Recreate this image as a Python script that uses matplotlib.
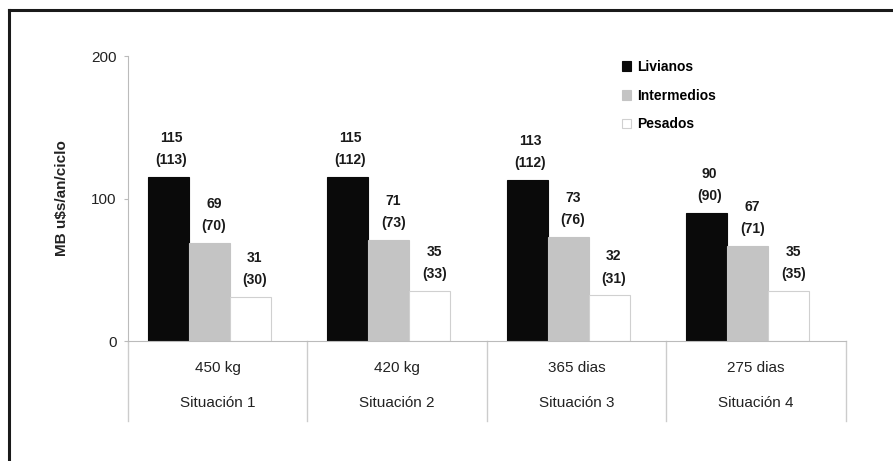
import matplotlib.pyplot as plt
import numpy as np
from matplotlib.lines import Line2D

# datos
situaciones = ['Situación 1', 'Situación 2', 'Situación 3', 'Situación 4']
condiciones = ['450 kg', '420 kg', '365 dias', '275 dias']
series = ['Livianos', 'Intermedios', 'Pesados']
livianos = [115, 115, 113, 90]
intermedios = [69, 71, 73, 67]
pesados = [31, 35, 32, 35]
livianos_par = [113, 112, 112, 90]
intermedios_par = [70, 73, 76, 71]
pesados_par = [30, 33, 31, 35]

valores = [livianos, intermedios, pesados]
parentesis = [livianos_par, intermedios_par, pesados_par]
colores = ['#0a0a0a', '#c4c4c4', '#ffffff']
bordes = ['#0a0a0a', '#c4c4c4', '#d0d0d0']

plt.rcParams['font.family'] = ['Liberation Sans', 'DejaVu Sans']

fig = plt.figure(figsize=(8.93, 4.61), dpi=100)
ax = fig.add_axes([0.1433, 0.2603, 0.804, 0.618])

# marco exterior (solo se ven los lados izquierdo y superior)
izq, sup = 9 / 893, 1 - 10 / 461
fig.add_artist(Line2D([izq, izq], [0, sup], transform=fig.transFigure,
                      color='#1a1a1a', linewidth=2.2, solid_capstyle='projecting'))
fig.add_artist(Line2D([izq, 1], [sup, sup], transform=fig.transFigure,
                      color='#1a1a1a', linewidth=2.2, solid_capstyle='projecting'))

x = np.arange(len(situaciones))
ancho = 0.228
desplaz = [0.225, 0.453, 0.681]
for s in range(len(series)):
    bars = ax.bar(x + desplaz[s], valores[s], width=ancho, color=colores[s],
                  edgecolor=bordes[s], linewidth=0.8, label=series[s])
    for i, b in enumerate(bars):
        ax.annotate(f'{valores[s][i]}\n({parentesis[s][i]})',
                    (b.get_x() + b.get_width() / 2 + (0.025 if s > 0 else 0.015), b.get_height()),
                    xytext=(0, 7), textcoords='offset points', ha='center', va='bottom',
                    fontsize=10, fontweight='bold', linespacing=1.75, color='#1a1a1a')

ax.set_xlim(0, 4)
ax.set_ylim(0, 200)
ax.set_yticks([0, 100, 200])
ax.tick_params(axis='y', labelsize=11, length=3, color='#bbbbbb', pad=5, labelcolor='#222222')
ax.set_xticks([])
ax.set_ylabel('MB u$s/an/ciclo', fontsize=11, fontweight='bold', labelpad=16, color='#222222')
for lado in ['top', 'right']:
    ax.spines[lado].set_visible(False)
ax.spines['left'].set_color('#bbbbbb')
ax.spines['bottom'].set_color('#bbbbbb')

# etiquetas de dos niveles bajo el eje
tr = ax.get_xaxis_transform()
for i in range(len(situaciones)):
    ax.text(x[i] + 0.5, -0.095, condiciones[i], transform=tr, ha='center', va='center',
            fontsize=11, color='#222222')
    ax.text(x[i] + 0.5, -0.218, situaciones[i], transform=tr, ha='center', va='center',
            fontsize=11, color='#222222')
for i in range(len(situaciones) + 1):
    ax.plot([i, i], [0, -0.28], transform=tr, color='#cccccc', linewidth=1, clip_on=False)

ax.legend(loc='upper left', bbox_to_anchor=(0.67, 1.03), frameon=False,
          prop={'weight': 'bold', 'size': 10}, handlelength=0.7, handleheight=0.7,
          handletextpad=0.4, labelspacing=1.05)

plt.savefig('out.png', dpi=100)
